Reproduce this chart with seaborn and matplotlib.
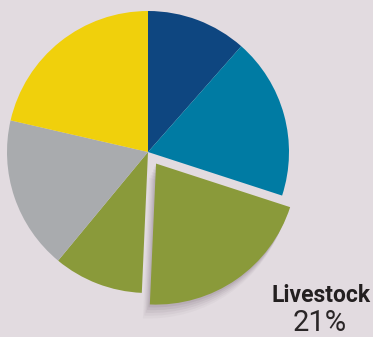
import matplotlib
matplotlib.use("Agg")
import matplotlib.pyplot as plt
import matplotlib.patheffects as pe
import seaborn as sns

categories = ["Energy", "Industry", "Livestock", "Agriculture", "Waste", "Transport"]
shares = [11.5, 18.5, 20.7, 10.3, 17.6, 21.4]
explode_flags = [0, 0, 0.1, 0, 0, 0]
highlight_label = "Livestock"
highlight_value = "21%"
colors = ["#0e4680", "#007ba3", "#8a9a3a", "#8a9a3a", "#a9abae", "#f0d00c"]

bg = "#e2dbe0"
sns.set_theme(style="white")
plt.rcParams["font.family"] = ["Roboto", "DejaVu Sans"]

W, H = 373, 337
fig = plt.figure(figsize=(W / 100, H / 100), dpi=100, facecolor=bg)
cx, cy, R = 148, 152, 141
ax = fig.add_axes([(cx - R) / W, (H - cy - R) / H, 2 * R / W, 2 * R / H])
ax.set_facecolor(bg)
ax.axis("off")

wedges, _ = ax.pie(shares, colors=colors, startangle=90, counterclock=False,
                   explode=explode_flags, radius=1.0,
                   wedgeprops=dict(linewidth=0))
for w in wedges:
    w.set_clip_on(False)

# soft shadow for exploded slice
hi = categories.index(highlight_label)
effects = []
for off, a in [((-1, -2), 0.10), ((-2, -4), 0.08), ((-3, -6), 0.07), ((-4, -8), 0.05), ((-5, -10), 0.04)]:
    effects.append(pe.SimplePatchShadow(offset=off, shadow_rgbFace="#5a4a58", alpha=a))
effects.append(pe.Normal())
wedges[hi].set_path_effects(effects)
wedges[hi].set_zorder(3)

ax.set_xlim(-1, 1)
ax.set_ylim(-1, 1)

fig.text(321 / W, 1 - 302 / H, highlight_label, ha="center", va="baseline",
         fontsize=16.5, fontweight="bold", color="#231f20",
         family=["Liberation Sans Narrow", "Roboto", "DejaVu Sans"])
fig.text(320 / W, 1 - 331 / H, highlight_value, ha="center", va="baseline",
         fontsize=21, fontweight="normal", color="#2a2627",
         family=["Roboto", "DejaVu Sans"])

fig.savefig("out.png", dpi=100, facecolor=bg)
